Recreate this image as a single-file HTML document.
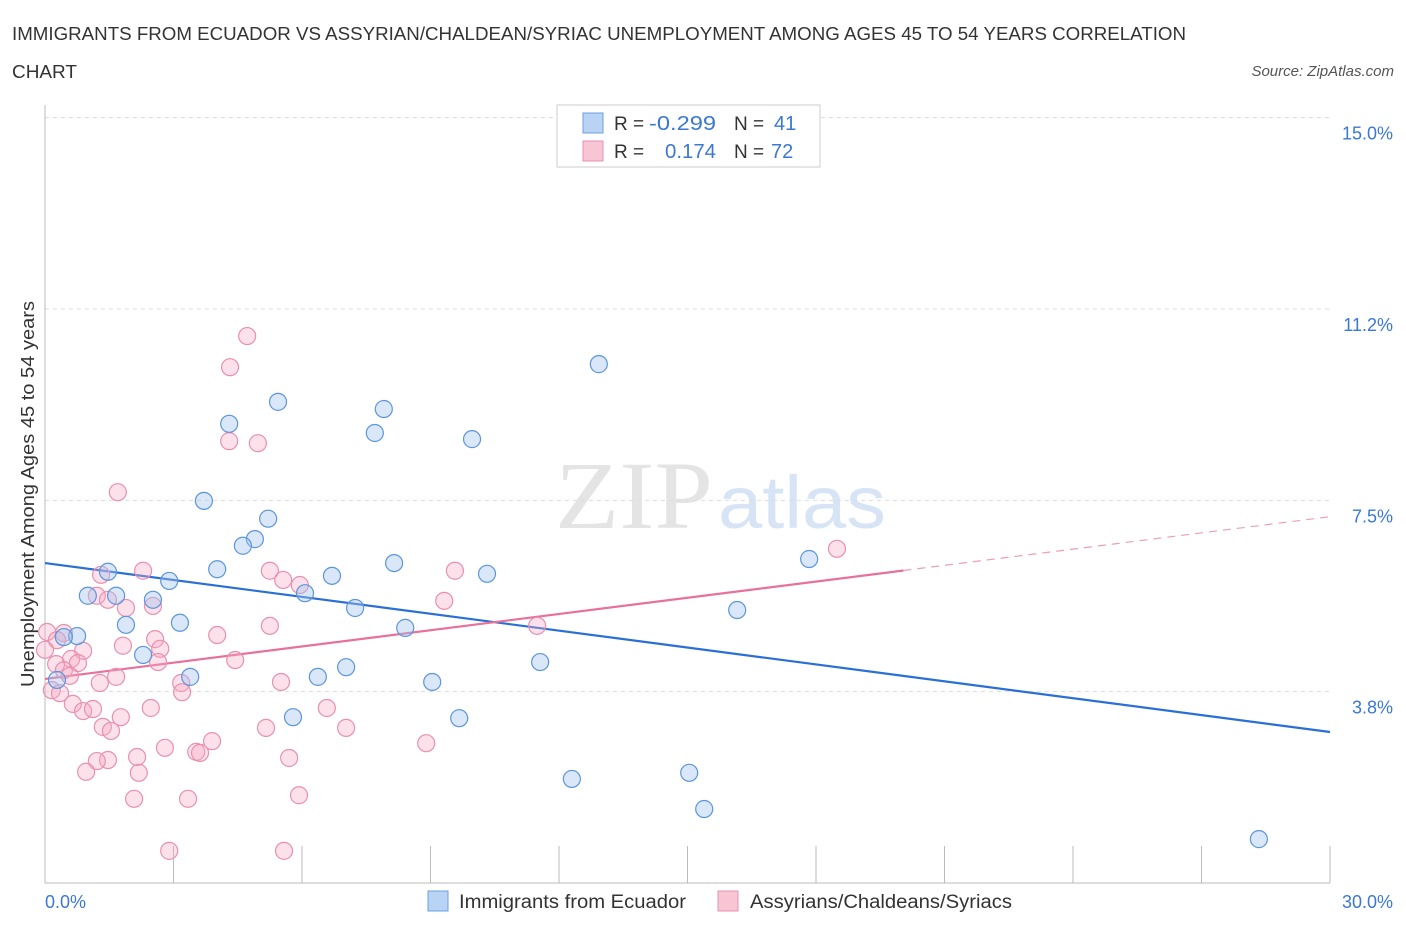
<!DOCTYPE html>
<html><head><meta charset="utf-8"><style>
body{margin:0;background:#fff;font-family:"Liberation Sans",sans-serif;}
</style></head><body>
<svg width="1406" height="930" xmlns="http://www.w3.org/2000/svg" font-family="Liberation Sans, sans-serif">
<text x="12" y="40" font-size="18" fill="#333" textLength="1174" lengthAdjust="spacingAndGlyphs">IMMIGRANTS FROM ECUADOR VS ASSYRIAN/CHALDEAN/SYRIAC UNEMPLOYMENT AMONG AGES 45 TO 54 YEARS CORRELATION</text>
<text x="12" y="78" font-size="18" fill="#333" textLength="65" lengthAdjust="spacingAndGlyphs">CHART</text>
<text x="1394" y="76" font-size="15" fill="#555" text-anchor="end" font-style="italic">Source: ZipAtlas.com</text>
<text x="555" y="528" font-size="96" fill="#e4e4e4" font-family="Liberation Serif, serif" textLength="158" lengthAdjust="spacingAndGlyphs">ZIP</text>
<text x="718" y="528" font-size="74" fill="#d6e4f5" textLength="168" lengthAdjust="spacingAndGlyphs">atlas</text>
<g id="grid"></g>
<g id="axes"></g>
<g id="lines"></g>
<g id="points"></g>
<text transform="translate(34,494) rotate(-90)" font-size="18" fill="#333" text-anchor="middle" textLength="386" lengthAdjust="spacingAndGlyphs">Unemployment Among Ages 45 to 54 years</text>
<g>
<rect x="557" y="105" width="263" height="62" fill="#fff" stroke="#ccc"/>
<rect x="583" y="113" width="20" height="20" fill="#b9d3f5" stroke="#6a9fe0"/>
<text x="614" y="130" font-size="19" fill="#333">R = </text><text x="649" y="130" font-size="20" fill="#3a78d4" textLength="67" lengthAdjust="spacingAndGlyphs">-0.299</text>
<text x="734" y="130" font-size="19" fill="#333">N = </text><text x="774" y="130" font-size="20" fill="#3a78d4">41</text>
<rect x="583" y="141" width="20" height="20" fill="#f8c5d5" stroke="#e890b0"/>
<text x="614" y="158" font-size="19" fill="#333">R = </text><text x="665" y="158" font-size="20" fill="#3a78d4" textLength="51" lengthAdjust="spacingAndGlyphs">0.174</text>
<text x="734" y="158" font-size="19" fill="#333">N = </text><text x="771" y="158" font-size="20" fill="#3a78d4">72</text>
</g>
<g>
<rect x="428" y="891" width="20" height="20" fill="#b9d3f5" stroke="#6a9fe0"/>
<text x="459" y="908" font-size="19" fill="#333" textLength="227" lengthAdjust="spacingAndGlyphs">Immigrants from Ecuador</text>
<rect x="718" y="891" width="20" height="20" fill="#f8c5d5" stroke="#e890b0"/>
<text x="750" y="908" font-size="19" fill="#333" textLength="262" lengthAdjust="spacingAndGlyphs">Assyrians/Chaldeans/Syriacs</text>
</g>
</svg>
<script>
const yTicks=[3.75,7.5,11.25,15];
const yTickLabels=["3.8%","7.5%","11.2%","15.0%"];
const xTicks=[0,3,6,9,12,15,18,21,24,27,30];
const blueX=[12.93,5.44,7.91,4.30,7.70,9.97,3.71,5.21,4.90,4.62,1.47,4.02,2.90,8.15,6.70,10.32,17.84,1.66,1.00,2.52,6.07,7.24,16.16,3.15,1.89,8.41,0.75,0.44,2.29,11.56,7.03,3.39,6.37,9.04,0.28,5.79,9.67,12.30,15.04,15.39,28.34];
const blueY=[10.17,9.43,9.29,9.00,8.82,8.70,7.49,7.14,6.74,6.61,6.10,6.15,5.92,6.27,6.02,6.06,6.35,5.63,5.63,5.55,5.68,5.39,5.35,5.10,5.06,5.00,4.84,4.82,4.47,4.33,4.23,4.04,4.04,3.94,3.98,3.25,3.23,2.04,2.16,1.45,0.86];
const pinkX=[4.72,4.32,1.70,4.30,4.97,18.49,2.29,1.31,5.25,5.56,9.57,5.95,1.21,1.47,2.52,1.89,9.32,5.25,11.49,2.57,4.02,1.82,2.69,0.05,0.44,0.28,0.89,0.61,0.77,0.26,0.44,2.64,4.44,1.66,3.18,3.20,5.51,0.16,0.35,0.65,0.89,1.12,2.47,6.58,1.77,1.35,1.54,5.16,7.03,3.90,2.80,2.15,3.53,3.62,5.70,1.47,1.21,0.96,2.19,8.90,2.08,3.34,5.93,2.90,5.58,0.58,1.28,0.0];
const pinkY=[10.72,10.11,7.66,8.66,8.62,6.55,6.12,6.04,6.12,5.94,6.12,5.84,5.63,5.55,5.43,5.39,5.53,5.04,5.04,4.78,4.86,4.65,4.59,4.92,4.90,4.76,4.55,4.39,4.31,4.29,4.17,4.33,4.37,4.04,3.92,3.74,3.94,3.78,3.72,3.51,3.37,3.41,3.43,3.43,3.25,3.06,2.98,3.04,3.04,2.78,2.65,2.47,2.57,2.55,2.45,2.41,2.39,2.18,2.16,2.74,1.65,1.65,1.72,0.63,0.63,4.06,3.92,4.57];
const blueLine=[6.27,2.96];
const pinkLine=[4.00,7.18];
const pinkSolidEnd=20.04;
const NS="http://www.w3.org/2000/svg";
const X=v=>45+v*(1285/30);
const Y=v=>883-v*(574/11.25);
function mk(tag,attrs,parent){const e=document.createElementNS(NS,tag);for(const k in attrs)e.setAttribute(k,attrs[k]);document.getElementById(parent).appendChild(e);return e;}
yTicks.forEach((t,i)=>{
 const g=mk('line',{x1:45,x2:1330,y1:Y(t),y2:Y(t),stroke:'#ddd','stroke-dasharray':'4,4'},'grid');
 
 
 const l=mk('text',{x:1393,y:Y(t)+22,'font-size':18,fill:'#3a78d4','text-anchor':'end'},'grid');
 l.textContent=yTickLabels[i];
 
 
});
const ax=mk('line',{x1:45,x2:1330,y1:883,y2:883,stroke:'#bbb'},'axes');


const ay=mk('line',{x1:45,x2:45,y1:105,y2:883,stroke:'#bbb'},'axes');


xTicks.forEach(t=>{
 const k=mk('line',{x1:X(t),x2:X(t),y1:846,y2:883,stroke:'#bbb'},'axes');
 
 
});
const xl0=mk('text',{x:45,y:908,'font-size':18,fill:'#3a78d4'},'axes');xl0.textContent='0.0%';


const xl1=mk('text',{x:1393,y:908,'font-size':18,fill:'#3a78d4','text-anchor':'end'},'axes');xl1.textContent='30.0%';


function pts(xs,ys,fill,stroke,name){xs.forEach((x,i)=>{
 const c=mk('circle',{cx:X(x),cy:Y(ys[i]),r:8.5,fill:fill,stroke:stroke,'stroke-width':1.2},'points');
 
 
});}
pts(pinkX,pinkY,'rgba(245,170,195,0.35)','#e890b0','assyrian-point');
pts(blueX,blueY,'rgba(160,196,240,0.4)','#5b95dc','ecuador-point');
const bl=mk('line',{x1:X(0),y1:Y(blueLine[0]),x2:X(30),y2:Y(blueLine[1]),stroke:'#2a6fd6','stroke-width':2.2},'lines');


const pm=pinkLine[0]+(pinkLine[1]-pinkLine[0])*pinkSolidEnd/30;
const pl=mk('line',{x1:X(0),y1:Y(pinkLine[0]),x2:X(pinkSolidEnd),y2:Y(pm),stroke:'#e8709a','stroke-width':2.2},'lines');


const pd=mk('line',{x1:X(pinkSolidEnd),y1:Y(pm),x2:X(30),y2:Y(pinkLine[1]),stroke:'#e8a0b8','stroke-width':1.2,'stroke-dasharray':'8,6'},'lines');


</script>
</body></html>
